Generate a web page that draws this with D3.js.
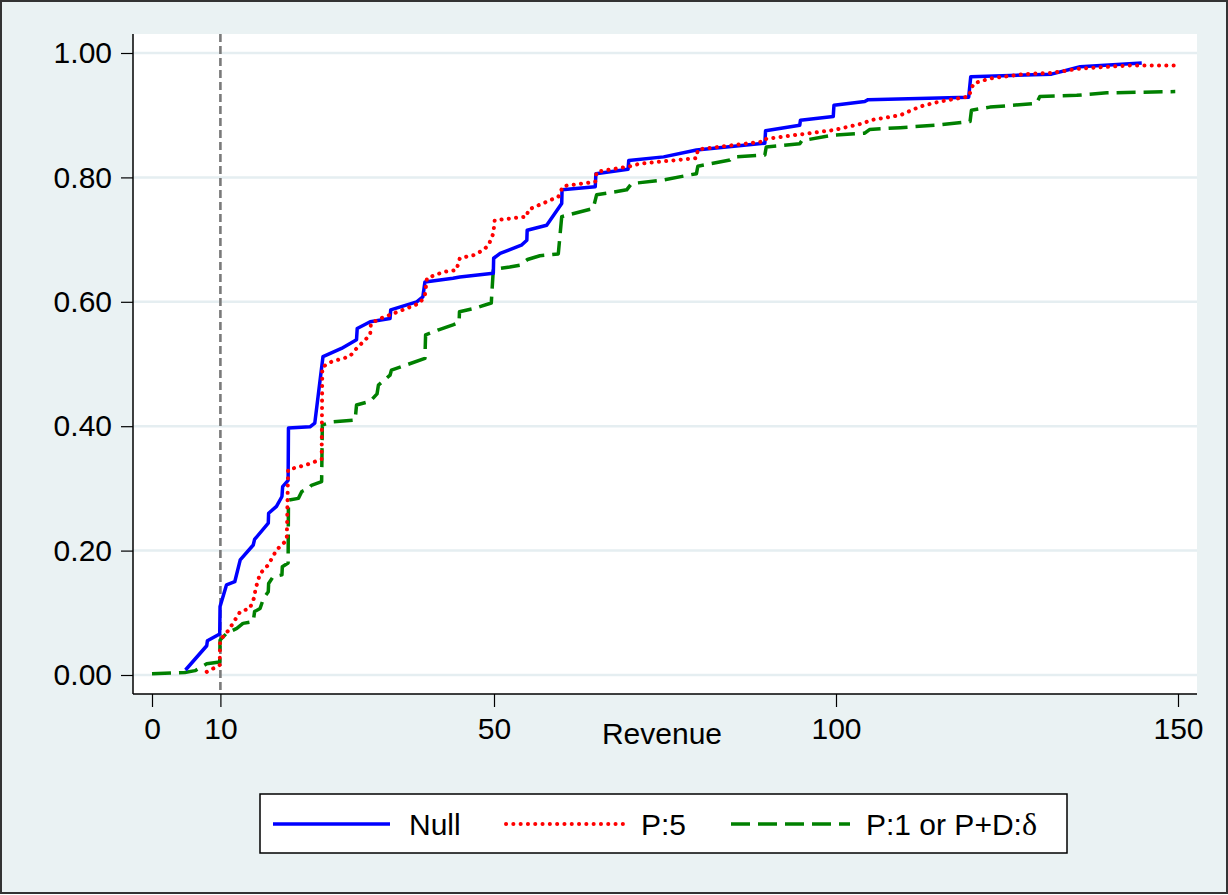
<!DOCTYPE html>
<html lang='en'>
  <head>
    <style type='text/css'>
      body {margin: 0; background-color: #fff;}
      text {font-family: "Liberation Sans", Arial, sans-serif; fill: #000;}
    </style>
  </head>
  <body>
    <svg id='chart' width='1228' height='895'></svg>
    <script src='https://d3js.org/d3.v7.min.js'></script>
    <script type='text/javascript'>
        // Data (revenue, cumulative share)
        var nullX = [4.9, 8.0, 8.1, 9.9, 9.95, 10.9, 12.1, 12.9, 14.8, 15.0, 17.0, 17.05, 18.2, 19.0, 19.1, 19.9, 19.95, 23.1, 23.8, 25.0, 27.7, 29.9, 30.0, 31.9, 34.8, 34.9, 38.7, 39.6, 39.9, 44.0, 45.0, 49.9, 49.95, 50.9, 54.0, 54.8, 54.85, 57.7, 59.9, 59.95, 64.8, 64.9, 69.6, 69.7, 74.8, 79.6, 89.6, 89.7, 94.7, 94.8, 99.6, 99.7, 104.2, 104.7, 119.4, 119.7, 131.5, 135.7, 144.7];
        var nullY = [0.008, 0.047, 0.055, 0.066, 0.110, 0.145, 0.150, 0.185, 0.209, 0.218, 0.244, 0.260, 0.271, 0.287, 0.303, 0.313, 0.397, 0.399, 0.405, 0.512, 0.525, 0.539, 0.557, 0.568, 0.573, 0.587, 0.600, 0.608, 0.632, 0.638, 0.640, 0.646, 0.670, 0.678, 0.691, 0.699, 0.715, 0.723, 0.758, 0.780, 0.785, 0.806, 0.813, 0.827, 0.833, 0.844, 0.855, 0.875, 0.884, 0.892, 0.898, 0.916, 0.922, 0.925, 0.929, 0.962, 0.966, 0.978, 0.984];

        var p5X = [8.0, 9.9, 9.95, 11.2, 12.9, 14.3, 15.0, 15.1, 15.8, 17.0, 18.2, 19.7, 19.9, 22.6, 24.8, 24.9, 26.3, 28.9, 29.9, 31.9, 32.0, 33.3, 34.8, 39.2, 39.9, 40.2, 42.6, 44.5, 45.0, 47.0, 48.4, 49.2, 49.9, 50.1, 54.8, 55.0, 59.4, 60.1, 64.8, 65.0, 69.9, 71.3, 79.6, 79.8, 89.6, 89.8, 99.6, 104.0, 105.0, 109.4, 112.3, 115.2, 119.4, 120.1, 122.5, 127.4, 131.5, 135.7, 143.0, 149.8];
        var p5Y = [0.005, 0.016, 0.056, 0.072, 0.102, 0.107, 0.126, 0.137, 0.163, 0.177, 0.201, 0.217, 0.330, 0.338, 0.347, 0.495, 0.504, 0.512, 0.525, 0.547, 0.565, 0.573, 0.579, 0.598, 0.611, 0.638, 0.648, 0.651, 0.670, 0.675, 0.683, 0.691, 0.710, 0.731, 0.737, 0.748, 0.769, 0.786, 0.793, 0.809, 0.818, 0.822, 0.831, 0.845, 0.858, 0.862, 0.876, 0.887, 0.892, 0.900, 0.914, 0.922, 0.930, 0.951, 0.959, 0.966, 0.968, 0.975, 0.980, 0.980];

        var p1X = [0, 4.8, 6.3, 8.0, 9.9, 9.95, 10.9, 12.4, 13.3, 14.8, 15.0, 15.8, 16.3, 17.0, 17.05, 17.7, 19.0, 19.05, 19.9, 19.95, 21.4, 21.9, 22.9, 23.3, 24.8, 24.9, 26.5, 29.7, 29.9, 31.9, 32.9, 33.1, 34.8, 35.0, 39.9, 40.0, 41.9, 44.0, 44.9, 44.95, 47.0, 49.6, 49.9, 52.3, 53.8, 54.9, 56.7, 59.4, 59.9, 64.5, 65.0, 69.4, 70.1, 74.8, 79.6, 79.8, 84.5, 85.0, 89.6, 89.8, 94.7, 95.0, 99.6, 104.2, 104.9, 109.4, 114.7, 119.6, 119.8, 122.5, 129.3, 129.8, 135.2, 139.6, 149.6];
        var p1Y = [0.002, 0.004, 0.007, 0.018, 0.021, 0.056, 0.067, 0.075, 0.083, 0.086, 0.102, 0.107, 0.123, 0.134, 0.147, 0.158, 0.161, 0.174, 0.180, 0.281, 0.284, 0.295, 0.300, 0.305, 0.311, 0.402, 0.407, 0.410, 0.434, 0.440, 0.452, 0.466, 0.482, 0.490, 0.509, 0.547, 0.555, 0.563, 0.567, 0.584, 0.589, 0.598, 0.652, 0.656, 0.659, 0.668, 0.674, 0.677, 0.737, 0.750, 0.772, 0.780, 0.790, 0.796, 0.806, 0.818, 0.828, 0.833, 0.836, 0.849, 0.854, 0.859, 0.868, 0.871, 0.877, 0.880, 0.884, 0.890, 0.908, 0.913, 0.919, 0.930, 0.932, 0.936, 0.938];

        var xTicks = [0, 10, 50, 100, 150];
        var yTicks = [0, 0.2, 0.4, 0.6, 0.8, 1.0];
        var cutoff = 10;
        var legendLabels = ["Null", "P:5", "P:1 or P+D:"];

        var svg = d3.select("#chart");
        var fontSize = 30;

        // plot region
        var plot = {left: 133, top: 34, right: 1197, bottom: 694};

        var x = d3.scaleLinear().domain([0, 150]).range([152, 1178]);
        var y = d3.scaleLinear().domain([0, 1]).range([675, 53]);

        // outer frame
        svg.append("rect")
            .attr("x", 1).attr("y", 1).attr("width", 1226).attr("height", 892)
            .attr("fill", "#eaf2f3").attr("stroke", "#333").attr("stroke-width", 2);

        svg.append("rect")
            .attr("x", plot.left).attr("y", plot.top)
            .attr("width", plot.right - plot.left).attr("height", plot.bottom - plot.top)
            .attr("fill", "#fff");

        // gridlines
        svg.selectAll(".grid").data(yTicks).enter().append("line")
            .attr("x1", plot.left).attr("x2", plot.right)
            .attr("y1", function(d){ return y(d); }).attr("y2", function(d){ return y(d); })
            .attr("stroke", "#e5eef1").attr("stroke-width", 2.5);

        // reference line at 10
        svg.append("line")
            .attr("x1", x(cutoff)).attr("x2", x(cutoff))
            .attr("y1", plot.top).attr("y2", plot.bottom)
            .attr("stroke", "#7a7a7a").attr("stroke-width", 2.6)
            .attr("stroke-dasharray", "8,4");

        // axes
        var yAxis = svg.append("g")
            .attr("transform", "translate(" + plot.left + ",0)")
            .call(d3.axisLeft(y).tickValues(yTicks).tickFormat(d3.format(".2f")).tickSize(12).tickPadding(9));
        var xAxis = svg.append("g")
            .attr("transform", "translate(0," + plot.bottom + ")")
            .call(d3.axisBottom(x).tickValues(xTicks).tickFormat(d3.format("d")).tickSize(13).tickPadding(11));

        [yAxis, xAxis].forEach(function(g){
          g.select(".domain").remove();
          g.selectAll(".tick line").attr("stroke", "#000").attr("stroke-width", 1.2);
          g.selectAll(".tick text").attr("font-size", fontSize).attr("font-family", "Liberation Sans, Arial, sans-serif").attr("fill", "#000");
        });

        svg.append("line")
            .attr("x1", plot.left).attr("x2", plot.left)
            .attr("y1", plot.top).attr("y2", plot.bottom)
            .attr("stroke", "#000").attr("stroke-width", 1.5);
        svg.append("line")
            .attr("x1", plot.left).attr("x2", plot.right)
            .attr("y1", plot.bottom).attr("y2", plot.bottom)
            .attr("stroke", "#000").attr("stroke-width", 1.5);

        svg.append("text")
            .attr("x", 662).attr("y", 744)
            .attr("text-anchor", "middle").attr("font-size", fontSize)
            .text("Revenue");

        // series
        var series = [
          {xs: nullX, ys: nullY, color: "#0000ff", width: 3.5, dash: null, cap: "butt"},
          {xs: p5X, ys: p5Y, color: "#ff0000", width: 4, dash: "0.1,7.2", cap: "round"},
          {xs: p1X, ys: p1Y, color: "#008000", width: 3.5, dash: "19,8", cap: "butt"}
        ];

        var line = d3.line()
            .x(function(d){ return x(d[0]); })
            .y(function(d){ return y(d[1]); });

        // draw green first, then blue, then red dots on top
        [2, 0, 1].forEach(function(i){
          var s = series[i];
          var pts = s.xs.map(function(v, k){ return [v, s.ys[k]]; });
          svg.append("path")
              .attr("d", line(pts))
              .attr("fill", "none")
              .attr("stroke", s.color)
              .attr("stroke-width", s.width)
              .attr("stroke-linejoin", "round")
              .attr("stroke-linecap", s.cap)
              .attr("stroke-dasharray", s.dash);
        });

        // legend
        svg.append("rect")
            .attr("x", 260).attr("y", 794).attr("width", 807).attr("height", 59)
            .attr("fill", "#fff").attr("stroke", "#000").attr("stroke-width", 1.5);

        var legendPos = [{x1: 273, x2: 390, tx: 409}, {x1: 506, x2: 623, tx: 641}, {x1: 731, x2: 850, tx: 866}];
        legendPos.forEach(function(p, i){
          var s = series[i];
          svg.append("line")
              .attr("x1", p.x1).attr("x2", p.x2).attr("y1", 824).attr("y2", 824)
              .attr("stroke", s.color).attr("stroke-width", s.width)
              .attr("stroke-linecap", s.cap)
              .attr("stroke-dasharray", s.dash);
          var t = svg.append("text")
              .attr("x", p.tx).attr("y", 835).attr("font-size", fontSize)
              .text(legendLabels[i]);
          if (i == 2) {
            t.append("tspan").attr("font-family", "Liberation Serif, serif").attr("font-size", 32).text("δ");
          }
        });
    </script>
  </body>
</html>
